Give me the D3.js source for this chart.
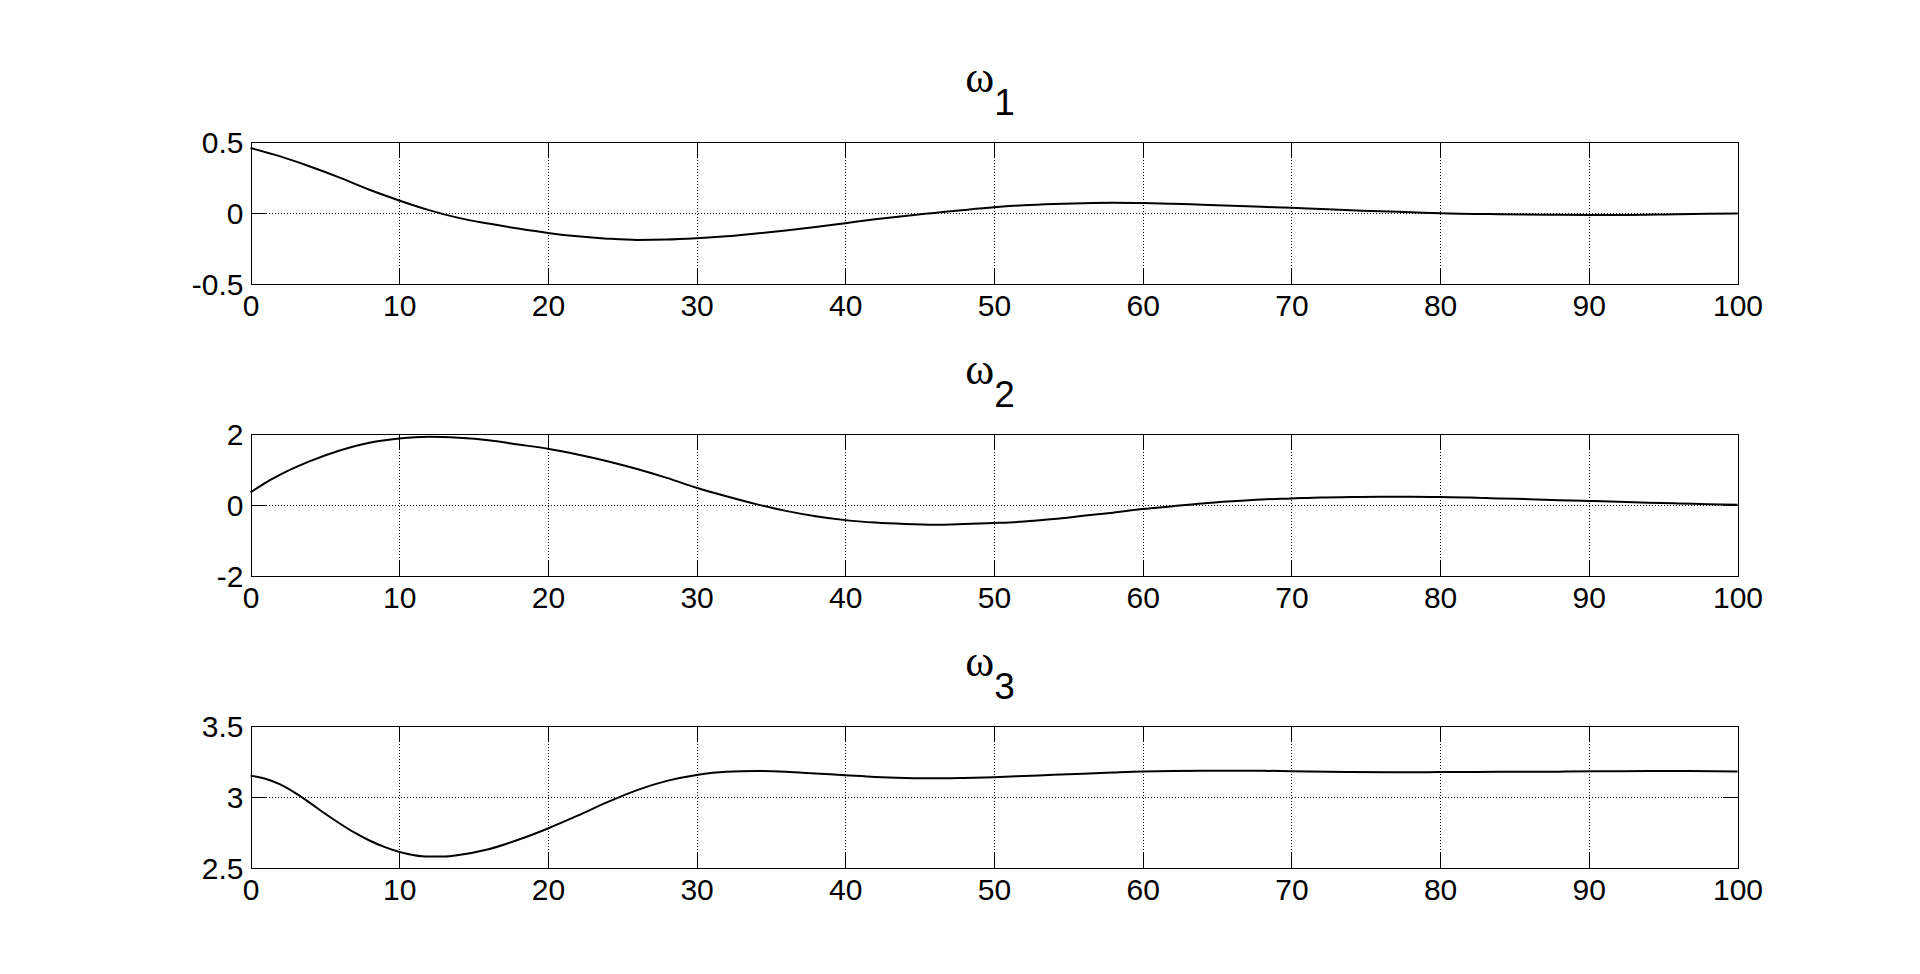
<!DOCTYPE html>
<html>
<head>
<meta charset="utf-8">
<script src="https://cdn.jsdelivr.net/npm/d3@7"></script>
<style>
  body { margin: 0; background: #fff; }
  svg { display: block; }
</style>
</head>
<body>
<div id="chart"></div>
<script>
// Time axis shared by all three panels
var xTicks = [0, 10, 20, 30, 40, 50, 60, 70, 80, 90, 100];

// omega_1
var w1_t = [0, 2, 4, 6, 8, 10, 12, 14, 16, 18, 20, 22, 24, 26, 28, 30, 32, 34, 36, 38, 40, 42, 44, 46, 48, 50,
            52, 54, 56, 58, 60, 62, 64, 66, 68, 70, 72, 74, 76, 78, 80, 84, 88, 92, 96, 100];
var w1_v = [0.454, 0.395, 0.324, 0.246, 0.16, 0.085, 0.017, -0.038, -0.078, -0.113, -0.144, -0.168, -0.184, -0.193, -0.191, -0.182,
            -0.168, -0.148, -0.126, -0.102, -0.075, -0.048, -0.024, -0.003, 0.018, 0.037,
            0.051, 0.060, 0.066, 0.069, 0.067, 0.062, 0.055, 0.048, 0.040, 0.033, 0.024, 0.016, 0.008, 0.002, -0.005, -0.012, -0.016, -0.017, -0.012, -0.007];

// omega_2
var w2_t = [0, 1, 2, 4, 6, 8, 10, 12, 14, 16, 18, 20, 22, 24, 26, 28, 30, 32, 34, 36, 38, 40, 42, 44, 46, 48, 50,
            52, 54, 56, 58, 60, 62, 64, 66, 68, 70, 72, 74, 76, 78, 80, 82, 84, 86, 88, 90, 92, 94, 96, 98, 100];
var w2_v = [0.34, 0.61, 0.84, 1.22, 1.52, 1.74, 1.86, 1.91, 1.88, 1.81, 1.69, 1.57, 1.41, 1.22, 1.00, 0.75, 0.47, 0.23, 0.01, -0.18, -0.33, -0.44, -0.51, -0.55, -0.57, -0.55, -0.52,
            -0.48, -0.41, -0.32, -0.23, -0.13, -0.05, 0.03, 0.09, 0.14, 0.17, 0.20, 0.21, 0.22, 0.22, 0.21, 0.20, 0.17, 0.15, 0.12, 0.10, 0.08, 0.05, 0.03, 0.01, -0.01];

// omega_3
var w3_t = [0, 1, 2, 3, 4, 5, 6, 7, 8, 9, 10, 11, 12, 13, 14, 16, 18, 20, 22, 24, 26, 28, 30, 32, 34, 36, 38, 40, 42, 44, 46, 48, 50,
            52, 54, 56, 58, 60, 64, 68, 70, 74, 78, 80, 84, 88, 92, 96, 100];
var w3_v = [3.147, 3.125, 3.085, 3.025, 2.955, 2.88, 2.81, 2.745, 2.69, 2.645, 2.61, 2.587, 2.577, 2.578, 2.588, 2.628, 2.695, 2.775, 2.865, 2.96, 3.045, 3.11, 3.152, 3.175, 3.18, 3.174, 3.162, 3.15, 3.138, 3.131, 3.128, 3.131, 3.136,
            3.144, 3.153, 3.161, 3.169, 3.176, 3.181, 3.181, 3.178, 3.173, 3.171, 3.172, 3.174, 3.175, 3.178, 3.179, 3.176];

var panels = [
  { sub: '1', t: w1_t, v: w1_v, domain: [-0.5, 0.5], yTicks: [-0.5, 0, 0.5] },
  { sub: '2', t: w2_t, v: w2_v, domain: [-2, 2], yTicks: [-2, 0, 2] },
  { sub: '3', t: w3_t, v: w3_v, domain: [2.5, 3.5], yTicks: [2.5, 3, 3.5] }
];

var width = 1920, height = 974;
var left = 250.5, right = 1737.5, ph = 142;
var tops = [141, 433, 725];
var tickLen = 15;
var fontFam = '"Liberation Sans", Arial, Helvetica, sans-serif';

var svg = d3.select('#chart').append('svg')
  .attr('width', width)
  .attr('height', height);

var x = d3.scaleLinear().domain([0, 100]).range([left, right]);

panels.forEach(function(p, i) {
  var top = tops[i] + 0.5;
  var y = d3.scaleLinear().domain(p.domain).range([top + ph, top]);
  var g = svg.append('g');

  // dotted grid
  g.append('g')
    .attr('transform', 'translate(0,' + (top + ph) + ')')
    .call(d3.axisBottom(x).tickValues(xTicks.slice(1, -1)).tickSize(-ph).tickFormat(''))
    .call(s => s.select('.domain').remove())
    .selectAll('line')
      .attr('stroke', '#000')
      .attr('stroke-dasharray', '1,2')
      .attr('shape-rendering', 'crispEdges');

  g.append('g')
    .attr('transform', 'translate(' + left + ',0)')
    .call(d3.axisLeft(y).tickValues(p.yTicks.slice(1, -1)).tickSize(-(right - left)).tickFormat(''))
    .call(s => s.select('.domain').remove())
    .selectAll('line')
      .attr('stroke', '#000')
      .attr('stroke-dasharray', '1,2')
      .attr('shape-rendering', 'crispEdges');

  // curve
  var pts = p.t.map(function(t, k) { return [t, p.v[k]]; });
  var line = d3.line()
    .curve(d3.curveMonotoneX)
    .x(d => x(d[0]))
    .y(d => y(d[1]));
  g.append('path')
    .datum(pts)
    .attr('d', line)
    .attr('fill', 'none')
    .attr('stroke', '#000')
    .attr('stroke-width', 2);

  // axes with inward ticks on all four sides
  var bottom = g.append('g')
    .attr('transform', 'translate(0,' + (top + ph) + ')')
    .call(d3.axisBottom(x).tickValues(xTicks).tickSize(-tickLen).tickPadding(11).tickFormat(d => String(d)));
  g.append('g')
    .attr('transform', 'translate(0,' + top + ')')
    .call(d3.axisTop(x).tickValues(xTicks).tickSize(-tickLen).tickFormat(''));
  var leftAx = g.append('g')
    .attr('transform', 'translate(' + left + ',0)')
    .call(d3.axisLeft(y).tickValues(p.yTicks).tickSize(-tickLen).tickPadding(7).tickFormat(d => String(d)));
  g.append('g')
    .attr('transform', 'translate(' + right + ',0)')
    .call(d3.axisRight(y).tickValues(p.yTicks).tickSize(-tickLen).tickFormat(''));

  g.selectAll('.domain').attr('stroke', '#000').attr('shape-rendering', 'crispEdges');
  g.selectAll('.tick line').attr('shape-rendering', 'crispEdges');
  [bottom, leftAx].forEach(function(a) {
    a.attr('font-family', fontFam).attr('font-size', 30);
    a.selectAll('text').attr('fill', '#000');
  });
  leftAx.selectAll('text').attr('dy', '0.36em');

  // title: omega with subscript
  var cx = (left + right) / 2;
  var title = svg.append('text')
    .attr('x', cx - 4)
    .attr('y', tops[i] - 49)
    .attr('text-anchor', 'middle')
    .attr('fill', '#000');
  title.append('tspan')
    .attr('font-family', '"Liberation Serif", "DejaVu Serif", serif')
    .attr('font-size', 44)
    .text('\u03c9');
  title.append('tspan')
    .attr('font-family', fontFam)
    .attr('font-size', 37)
    .attr('dy', 23)
    .text(p.sub);
});
</script>
</body>
</html>
